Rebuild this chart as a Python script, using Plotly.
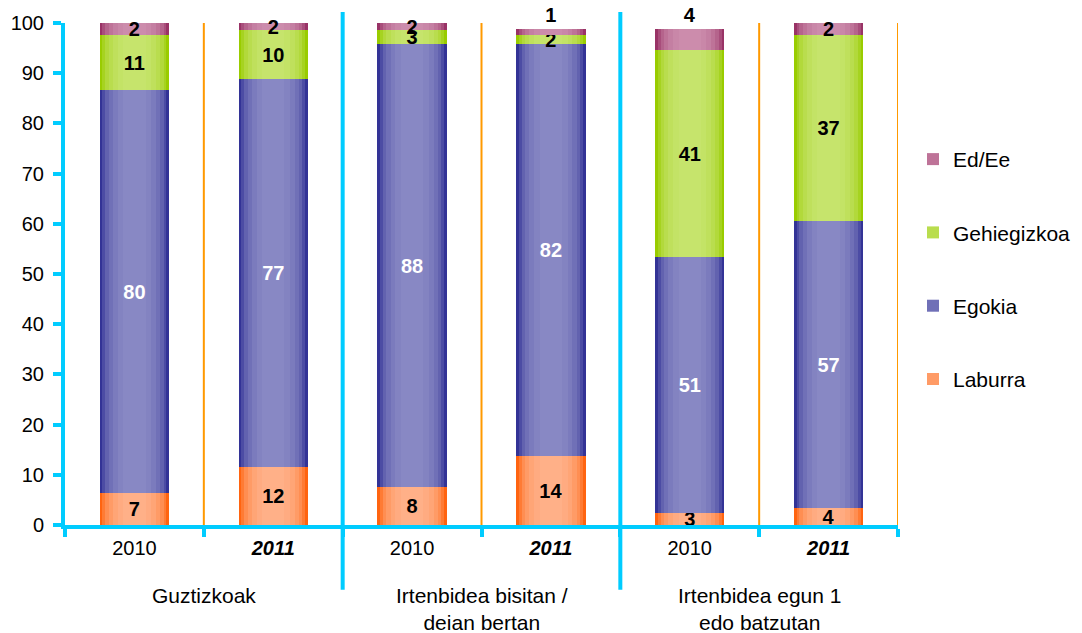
import plotly.graph_objects as go

# datuak
groups = ["Guztizkoak", "Irtenbidea bisitan /<br>deian bertan", "Irtenbidea egun 1<br>edo batzutan"]
years = ["2010", "<b><i>2011</i></b>", "2010", "<b><i>2011</i></b>", "2010", "<b><i>2011</i></b>"]

laburra = [6.3, 11.5, 7.5, 13.7, 2.3, 3.3]
egokia = [80.3, 77.3, 88.3, 82.1, 51.0, 57.2]
gehiegizkoa = [11.0, 9.8, 2.8, 1.8, 41.3, 37.1]
ed_ee = [2.4, 1.4, 1.4, 1.2, 4.2, 2.4]

laburra_lbl = [7, 12, 8, 14, 3, 4]
egokia_lbl = [80, 77, 88, 82, 51, 57]
gehiegizkoa_lbl = [11, 10, 3, 2, 41, 37]
ed_ee_lbl = [2, 2, 2, 1, 4, 2]
ed_ee_pos = ["inside", "inside", "inside", "outside", "outside", "inside"]

series = [
    ("Laburra", laburra, laburra_lbl, "#ff6410", "#ffb088", "black", "inside"),
    ("Egokia", egokia, egokia_lbl, "#333396", "#8888c4", "white", "inside"),
    ("Gehiegizkoa", gehiegizkoa, gehiegizkoa_lbl, "#99cc00", "#c6e46c", "black", "inside"),
    ("Ed/Ee", ed_ee, ed_ee_lbl, "#993366", "#cc8cac", "black", ed_ee_pos),
]
legend_rank = {"Ed/Ee": 1, "Gehiegizkoa": 2, "Egokia": 3, "Laburra": 4}

# gradient faltsua: geruza estuagoak eta argiagoak
layers = [(0.5, 0.0), (0.46, 0.3), (0.42, 0.55), (0.37, 0.72), (0.31, 0.85), (0.24, 0.94), (0.16, 1.0)]


def mix(c1, c2, t):
    a = [int(c1[i:i + 2], 16) for i in (1, 3, 5)]
    b = [int(c2[i:i + 2], 16) for i in (1, 3, 5)]
    return "#" + "".join(f"{round(x + (y - x) * t):02x}" for x, y in zip(a, b))


xs = list(range(len(years)))
fig = go.Figure()
for li, (w, t) in enumerate(layers):
    yax = "y" if li == 0 else f"y{li + 1}"
    last = li == len(layers) - 1
    for name, vals, lbls, edge, center, tcol, tpos in series:
        fig.add_trace(go.Bar(
            x=xs, y=vals, width=w, yaxis=yax, name=name,
            marker=dict(color=mix(edge, center, t), line=dict(width=0)),
            showlegend=(li == 3), legendgroup=name, legendrank=legend_rank[name],
            text=[str(v) for v in lbls] if last else None,
            textposition=tpos if last else "none",
            insidetextanchor="middle", textangle=0, constraintext="none",
            textfont=dict(family="Liberation Sans", size=20, color=tcol, weight="bold"),
            cliponaxis=False, hoverinfo="skip",
        ))

fig.update_layout(
    barmode="stack",
    width=1074, height=625,
    margin=dict(l=57, r=184, t=15, b=108, autoexpand=False),
    plot_bgcolor="white", paper_bgcolor="white",
    font=dict(family="Liberation Sans", size=20, color="black"),
    legend=dict(x=1.018, y=0.769, xanchor="left", yanchor="top",
                traceorder="grouped", tracegroupgap=43, font=dict(size=21)),
    xaxis=dict(range=[-0.5, 5.5], tickmode="array", tickvals=xs, ticktext=years,
               ticks="", showline=True, linecolor="#00ccff", linewidth=4,
               showgrid=False, zeroline=False, ticklabelstandoff=2, automargin=False,
               minor=dict(tickmode="array", tickvals=[-0.5, 0.5, 1.5, 2.5, 3.5, 4.5, 5.5],
                          ticks="outside", ticklen=8, tickwidth=4, tickcolor="#00ccff",
                          showgrid=False)),
    yaxis=dict(range=[0, 100], dtick=10, showline=True, linecolor="#00ccff", linewidth=4,
               ticks="outside", ticklen=8, tickwidth=4, tickcolor="#00ccff",
               ticklabelstandoff=5, showgrid=False, zeroline=False, automargin=False),
)
for li in range(1, len(layers)):
    fig.update_layout({f"yaxis{li + 1}": dict(range=[0, 100], overlaying="y", visible=False)})

# bereizleak
for xv in [0.5, 2.5, 4.5, 5.5]:
    fig.add_shape(type="line", xref="x", yref="y", x0=xv, x1=xv, y0=0, y1=100,
                  line=dict(color="#ff9900", width=2))
for xv in [1.5, 3.5]:
    fig.add_shape(type="line", xref="x", yref="paper", x0=xv, x1=xv, y0=-0.129, y1=1.022,
                  line=dict(color="#00ccff", width=4))

for gi, g in enumerate(groups):
    fig.add_annotation(x=gi * 2 + 0.5, xref="x", y=-0.113, yref="paper", text=g,
                       showarrow=False, yanchor="top", align="center",
                       font=dict(size=21))

fig.write_html("out.html")
